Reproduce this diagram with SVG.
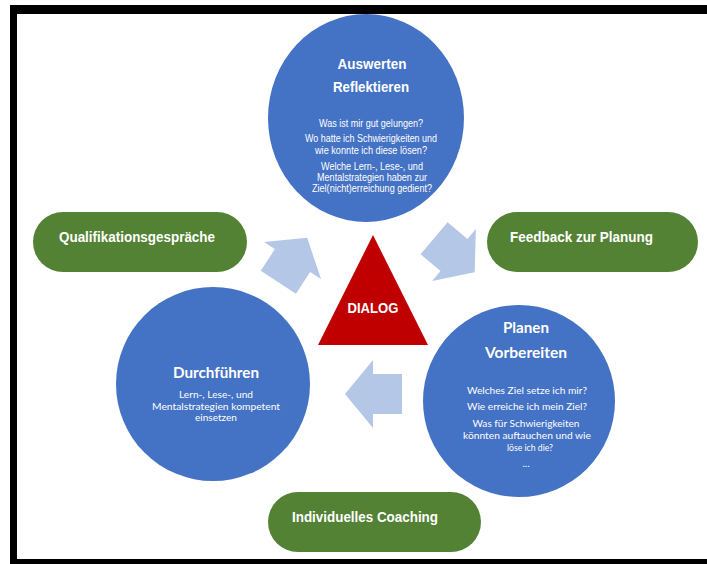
<svg xmlns="http://www.w3.org/2000/svg" width="707" height="564" viewBox="0 0 707 564">
<style>
.circ{fill:#4472C4}
.pill{fill:#548235}
.arr{fill:#B4C7E7}
.t{fill:#fff;text-anchor:middle}
.h1{font-family:"Liberation Sans",Arial,sans-serif;font-weight:bold;font-size:15px}
.s1{font-family:"Liberation Sans",Arial,sans-serif;font-size:10px}
.h2{font-family:Lato,"Noto Sans",sans-serif;font-weight:bold;font-size:15px}
.s2{font-family:Lato,"Noto Sans",sans-serif;font-size:10px}
.p{font-family:"Liberation Sans",Arial,sans-serif;font-weight:bold;font-size:15px;fill:#fff}
</style>
<rect width="707" height="564" fill="#fff"/>
<g id="frame" fill="#000">
<rect x="10" y="5" width="697" height="9"/>
<rect x="10" y="5" width="7" height="559"/>
<rect x="10" y="559" width="697" height="5"/>
</g>
<g id="connectors">
<polygon class="arr" transform="translate(292.5,260.5) rotate(-57)" points="-26,-21 0,-21 0,-34 27,0 0,34 0,21 -26,21"/>
<polygon class="arr" transform="translate(454,255) rotate(40)" points="-26,-21 0,-21 0,-34 27,0 0,34 0,21 -26,21"/>
<polygon class="arr" points="402,374 373,374 373,360 345,394 373,428 373,414 402,414"/>
</g>
<g id="auswerten">
<ellipse class="circ" cx="366" cy="118" rx="98" ry="104"/>
<text class="t h1" x="372" y="69" textLength="69" lengthAdjust="spacingAndGlyphs">Auswerten</text>
<text class="t h1" x="371" y="92" textLength="76" lengthAdjust="spacingAndGlyphs">Reflektieren</text>
<text class="t s1" x="371" y="127" textLength="104" lengthAdjust="spacingAndGlyphs">Was ist mir gut gelungen?</text>
<text class="t s1" x="371" y="142" textLength="132" lengthAdjust="spacingAndGlyphs">Wo hatte ich Schwierigkeiten und</text>
<text class="t s1" x="371" y="154" textLength="112" lengthAdjust="spacingAndGlyphs">wie konnte ich diese lösen?</text>
<text class="t s1" x="372" y="170" textLength="102" lengthAdjust="spacingAndGlyphs">Welche Lern-, Lese-, und</text>
<text class="t s1" x="372" y="181" textLength="110" lengthAdjust="spacingAndGlyphs">Mentalstrategien haben zur</text>
<text class="t s1" x="372" y="192" textLength="120" lengthAdjust="spacingAndGlyphs">Ziel(nicht)erreichung gedient?</text>
</g>
<g id="planen">
<circle class="circ" cx="519" cy="401" r="96"/>
<text class="t h2" x="526" y="333" textLength="46" lengthAdjust="spacingAndGlyphs">Planen</text>
<text class="t h2" x="526" y="358" textLength="82" lengthAdjust="spacingAndGlyphs">Vorbereiten</text>
<text class="t s2" x="527" y="394" textLength="120" lengthAdjust="spacingAndGlyphs">Welches Ziel setze ich mir?</text>
<text class="t s2" x="527" y="410" textLength="120" lengthAdjust="spacingAndGlyphs">Wie erreiche ich mein Ziel?</text>
<text class="t s2" x="526" y="427" textLength="107" lengthAdjust="spacingAndGlyphs">Was für Schwierigkeiten</text>
<text class="t s2" x="527" y="439" textLength="128" lengthAdjust="spacingAndGlyphs">könnten auftauchen und wie</text>
<text class="t s2" x="530" y="451" textLength="46" lengthAdjust="spacingAndGlyphs">löse ich die?</text>
<text class="t s2" x="526" y="467">...</text>
</g>
<g id="durchfuehren">
<circle class="circ" cx="213" cy="384" r="97"/>
<text class="t h2" x="216" y="378" textLength="86" lengthAdjust="spacingAndGlyphs">Durchführen</text>
<text class="t s2" x="216" y="398" textLength="74" lengthAdjust="spacingAndGlyphs">Lern-, Lese-, und</text>
<text class="t s2" x="216" y="410" textLength="128" lengthAdjust="spacingAndGlyphs">Mentalstrategien kompetent</text>
<text class="t s2" x="216" y="421" textLength="42" lengthAdjust="spacingAndGlyphs">einsetzen</text>
</g>
<g id="dialog">
<polygon fill="#C00000" points="373,235 428,345 318,345"/>
<text class="t h1" x="373" y="313" textLength="51" lengthAdjust="spacingAndGlyphs">DIALOG</text>
</g>
<g id="qualifikation">
<rect class="pill" x="33" y="212" width="214" height="60" rx="30"/>
<text class="p" x="59" y="242" textLength="156" lengthAdjust="spacingAndGlyphs">Qualifikationsgespräche</text>
</g>
<g id="feedback">
<rect class="pill" x="487" y="212" width="211" height="60" rx="30"/>
<text class="p" x="510" y="242" textLength="143" lengthAdjust="spacingAndGlyphs">Feedback zur Planung</text>
</g>
<g id="coaching">
<rect class="pill" x="268" y="492" width="213" height="60" rx="30"/>
<text class="p" x="292" y="522" textLength="146" lengthAdjust="spacingAndGlyphs">Individuelles Coaching</text>
</g>
</svg>
